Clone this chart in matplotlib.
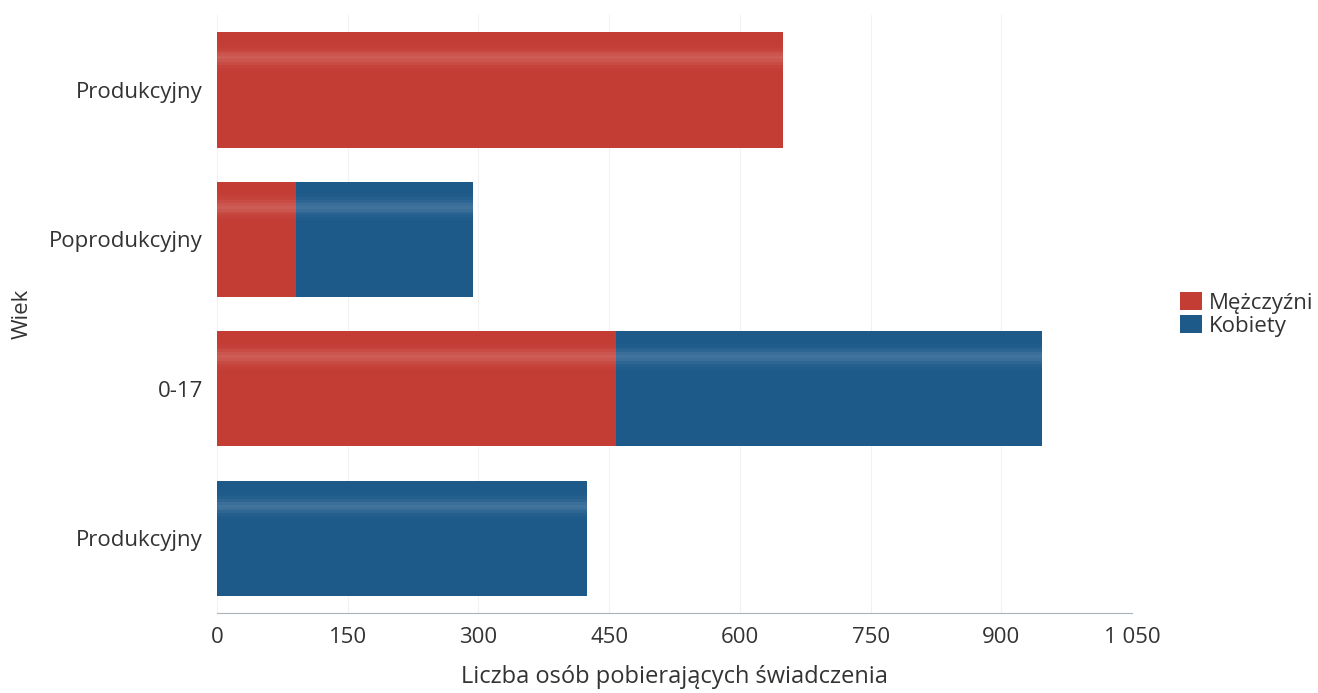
import matplotlib.pyplot as plt
import numpy as np

# dane z wykresu (od dolu do gory)
wiek = ['Produkcyjny', '0-17', 'Poprodukcyjny', 'Produkcyjny']
mezczyzni = [0, 458, 91, 649]
kobiety = [425, 488, 203, 0]

plt.rcParams['font.family'] = ['Open Sans', 'DejaVu Sans']

fig = plt.figure(figsize=(13.18, 6.93), dpi=100)
ax = fig.add_axes([0.1646, 0.1154, 0.6944, 0.8626])

y = np.arange(len(wiek))
h = 0.77
ax.barh(y, mezczyzni, height=h, color='#c43d35', label='Mężczyźni')
ax.barh(y, kobiety, height=h, left=mezczyzni, color='#1d5a8a', label='Kobiety')

# lekki polysk na gorze slupkow
sumy = np.array(mezczyzni) + np.array(kobiety)
for off in np.linspace(0.18, 0.38, 9):
    a = 0.16 * np.exp(-((off - 0.28) / 0.06) ** 2)
    ax.barh(y + h * off, sumy, height=h * 0.025, color='white', alpha=a, linewidth=0)

ax.set_xlim(0, 1050)
ax.set_ylim(-0.5, len(wiek) - 0.5)
ticks = np.arange(0, 1051, 150)
ax.set_xticks(ticks)
ax.set_xticklabels(['1 050' if t == 1050 else str(t) for t in ticks])
ax.set_yticks(y)
ax.set_yticklabels(wiek)
ax.tick_params(length=0, labelsize=16, colors='#333333', pad=10)
ax.tick_params(axis='x', pad=10)

ax.grid(axis='x', color='#f2f2f2', linewidth=0.8)
ax.set_axisbelow(True)
for s in ['top', 'right', 'left']:
    ax.spines[s].set_visible(False)
ax.spines['bottom'].set_color('#aab4bb')

ax.set_xlabel('Liczba osób pobierających świadczenia', fontsize=17, color='#333333', labelpad=12)
ax.set_ylabel('Wiek', fontsize=16, color='#333333', labelpad=12)

ax.legend(loc='center left', bbox_to_anchor=(1.052, 0.50), frameon=False,
          fontsize=16, handlelength=1.0, handleheight=0.9, handletextpad=0.3,
          labelspacing=0.05, borderpad=0, borderaxespad=0, labelcolor='#333333')

fig.savefig('out.png', dpi=100)
